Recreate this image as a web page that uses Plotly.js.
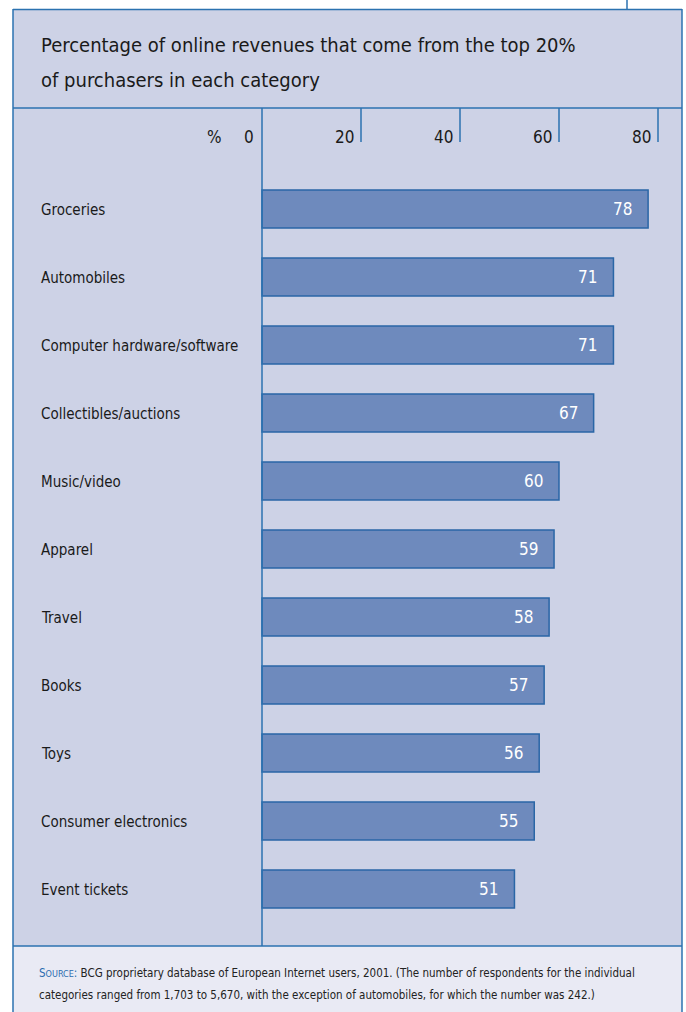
<!DOCTYPE html>
<html>
<head>
<meta charset="utf-8">
<script src="https://cdn.plot.ly/plotly-3.0.1.min.js"></script>
<style>html,body{margin:0;padding:0;background:#fff;}#chart{width:686px;height:1012px;}</style>
</head>
<body>
<div id="chart"></div>
<script>
// ---- data ----
const categories = ["Groceries","Automobiles","Computer hardware/software","Collectibles/auctions","Music/video","Apparel","Travel","Books","Toys","Consumer electronics","Event tickets"];
const values = [78,71,71,67,60,59,58,57,56,55,51];
const tickValues = [0,20,40,60,80];
const tickLabels = ["0","20","40","60","80"];
const unitLabel = "%";
const titleLines = ["Percentage of online revenues that come from the top 20%","of purchasers in each category"];
const sourceLines = ["BCG proprietary database of European Internet users, 2001. (The number of respondents for the individual","categories ranged from 1,703 to 5,670, with the exception of automobiles, for which the number was 242.)"];

// ---- page geometry ----
const W = 686, H = 1012;
const FONT = '"DejaVu Sans Condensed","Liberation Sans Narrow","Arial Narrow",sans-serif';
const LINE = '#2b72b0';
const X = px => px / W;
const Y = py => 1 - py / H;

const x0px = 262, pxPerUnit = 4.95;
const xRange = [-x0px / pxPerUnit, (W - x0px) / pxPerUnit];
const firstCenter = 209, pitch = 68;
const yRange = [(H - firstCenter) / pitch, -firstCenter / pitch];

const trace = {
  type: 'bar', orientation: 'h',
  x: values, y: categories,
  width: 38 / pitch,
  marker: {color: '#6e8abd', line: {color: '#2a66a6', width: 1.5}},
  hoverinfo: 'none'
};

function hline(py, x1, x2){return {type:'line',xref:'paper',yref:'paper',x0:X(x1),x1:X(x2),y0:Y(py),y1:Y(py),line:{color:LINE,width:1.5}};}
function vline(px, y1, y2){return {type:'line',xref:'paper',yref:'paper',x0:X(px),x1:X(px),y0:Y(y1),y1:Y(y2),line:{color:LINE,width:1.5}};}

const shapes = [
  {type:'rect',xref:'paper',yref:'paper',x0:X(13),x1:X(682),y0:Y(9),y1:Y(946),fillcolor:'#cdd2e6',line:{width:0},layer:'below'},
  {type:'rect',xref:'paper',yref:'paper',x0:X(13),x1:X(682),y0:Y(946),y1:Y(1013),fillcolor:'#e9eaf4',line:{width:0},layer:'below'},
  hline(9.5, 13, 682), hline(108, 13, 682), hline(946, 13, 682),
  vline(13, 9, 1013), vline(682, 9, 1013), vline(627, 0, 9)
];
// axis lines from the tick array
tickValues.forEach(v => {
  const bottom = v === 0 ? 946 : 142;
  shapes.push({type:'line',xref:'x',yref:'paper',x0:v,x1:v,y0:Y(108),y1:Y(bottom),line:{color:LINE,width:1.5}});
});

const annotations = [];
titleLines.forEach((t, i) => annotations.push({
  text: t, xref:'paper', yref:'paper', x: X(39), y: Y(45 + i * 35),
  xanchor:'left', yanchor:'middle', showarrow:false,
  font:{family:FONT, size:20, color:'#1a1a1a'}
}));
tickValues.forEach((v, i) => annotations.push({
  text: tickLabels[i], xref:'x', yref:'paper', x: v, y: Y(137),
  xanchor:'right', yanchor:'middle', xshift: v === 0 ? -6 : -5, showarrow:false,
  font:{family:FONT, size:17, color:'#1a1a1a'}
}));
annotations.push({
  text: unitLabel, xref:'x', yref:'paper', x: 0, y: Y(137),
  xanchor:'right', yanchor:'middle', xshift:-38, showarrow:false,
  font:{family:FONT, size:17, color:'#1a1a1a'}
});
categories.forEach((c, i) => {
  annotations.push({
    text: c, xref:'paper', yref:'y', x: X(39), y: c, yshift: -1,
    xanchor:'left', yanchor:'middle', showarrow:false,
    font:{family:FONT, size:15, color:'#1a1a1a'}
  });
  annotations.push({
    text: String(values[i]), xref:'x', yref:'y', x: values[i], y: c,
    xanchor:'right', yanchor:'middle', xshift:-14, showarrow:false,
    font:{family:FONT, size:17, color:'#ffffff'}
  });
});
sourceLines.forEach((t, i) => annotations.push({
  text: (i === 0 ? '<span style="color:#2b6cb0">S<span style="font-size:9px">OURCE</span>:</span> ' : '') + t,
  xref:'paper', yref:'paper', x: X(37), y: Y(973 + i * 22),
  xanchor:'left', yanchor:'middle', showarrow:false,
  font:{family:FONT, size:11.5, color:'#222222'}
}));

const layout = {
  width: W, height: H,
  margin: {l:0, r:0, t:0, b:0, pad:0},
  paper_bgcolor: '#ffffff', plot_bgcolor: 'rgba(0,0,0,0)',
  showlegend: false,
  xaxis: {range: xRange, visible: false, fixedrange: true},
  yaxis: {type:'category', categoryorder:'array', categoryarray: categories, range: yRange, visible: false, fixedrange: true},
  shapes: shapes,
  annotations: annotations,
  bargap: 0
};

Plotly.newPlot('chart', [trace], layout, {displayModeBar:false, staticPlot:true});
</script>
</body>
</html>
